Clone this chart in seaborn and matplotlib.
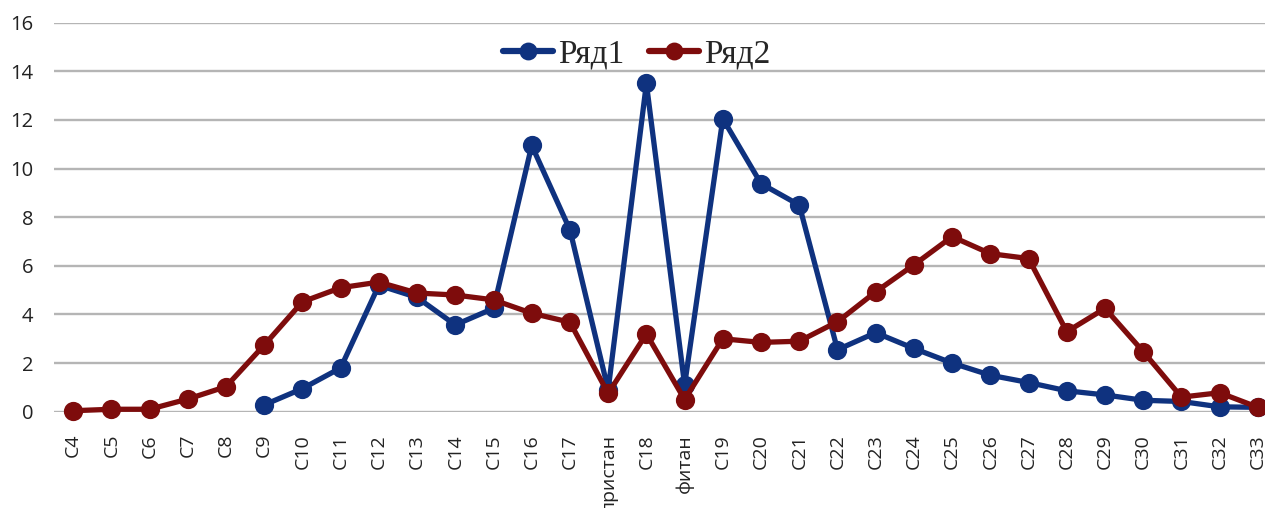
import numpy as np
import pandas as pd
import matplotlib
matplotlib.use("Agg")
import matplotlib.pyplot as plt
import seaborn as sns

# Categories along the x axis
categories = ["C4", "C5", "C6", "C7", "C8", "C9", "C10", "C11", "C12", "C13",
              "C14", "C15", "C16", "C17", "пристан", "C18", "фитан", "C19",
              "C20", "C21", "C22", "C23", "C24", "C25", "C26", "C27", "C28",
              "C29", "C30", "C31", "C32", "C33"]

# Series values (Ряд1 has no data for C4–C8)
ryad1 = [np.nan, np.nan, np.nan, np.nan, np.nan, 0.28, 0.95, 1.8, 5.2, 4.7,
         3.57, 4.25, 10.95, 7.48, 0.9, 13.5, 1.1, 12.05,
         9.38, 8.5, 2.55, 3.25, 2.6, 2.0, 1.5, 1.2, 0.86,
         0.69, 0.47, 0.42, 0.2, 0.18]
ryad2 = [0.04, 0.1, 0.1, 0.52, 1.03, 2.74, 4.52, 5.1, 5.33, 4.88,
         4.8, 4.6, 4.05, 3.68, 0.75, 3.2, 0.5, 3.0,
         2.85, 2.9, 3.7, 4.93, 6.04, 7.2, 6.5, 6.3, 3.29,
         4.25, 2.47, 0.6, 0.78, 0.18]

series_names = ["Ряд1", "Ряд2"]
series_colors = ["#0f327f", "#7e0c0c"]
y_ticks = [0, 2, 4, 6, 8, 10, 12, 14, 16]

df = pd.DataFrame({
    "category": categories * 2,
    "value": ryad1 + ryad2,
    "series": [series_names[0]] * len(categories) + [series_names[1]] * len(categories),
})

sns.set_style("white")
plt.rcParams["font.family"] = ["Open Sans", "DejaVu Sans"]

W, H = 1265, 508
fig = plt.figure(figsize=(W / 100, H / 100), dpi=100)
# plot area in pixels: left 54, right 1277 (runs past the canvas), y from 22.7 to 411.7
ax = fig.add_axes([54 / W, (H - 411.7) / H, (1277 - 54) / W, (411.7 - 22.7) / H])

sns.pointplot(data=df, x="category", y="value", hue="series", order=categories,
              hue_order=series_names, palette=series_colors, markers="o",
              linestyles="-", dodge=False, errorbar=None, markersize=11,
              linewidth=3.8, ax=ax)

for line in ax.lines:
    line.set_clip_on(False)
    line.set_zorder(3)

ax.set_xlim(-0.5, len(categories) - 0.5)
ax.set_ylim(0, 16)
ax.set_yticks(y_ticks)
ax.set_yticklabels([str(t) for t in y_ticks])
ax.set_xlabel("")
ax.set_ylabel("")
for s in ax.spines.values():
    s.set_visible(False)
ax.yaxis.grid(True, color="#b5b5b5", linewidth=1.7)
ax.xaxis.grid(False)
ax.set_axisbelow(True)
ax.tick_params(axis="y", length=0, pad=15, labelsize=14.5, labelcolor="#222222")
ax.tick_params(axis="x", length=0, pad=16, labelsize=14, labelcolor="#222222",
               labelrotation=90)
for lbl in ax.get_xticklabels():
    lbl.set_verticalalignment("top")

handles, labels = ax.get_legend_handles_labels()
if ax.get_legend() is not None:
    ax.get_legend().remove()
leg = fig.legend(handles, labels, loc="center", bbox_to_anchor=(637 / W, 1 - 54 / H),
                 ncol=2, frameon=False, prop={"family": "Liberation Serif", "size": 24},
                 handlelength=1.5, handletextpad=0.15, columnspacing=0.75)
for h in leg.legend_handles:
    h.set_linewidth(4.5)
    h.set_markersize(10)

fig.savefig("out.png", dpi=100)
